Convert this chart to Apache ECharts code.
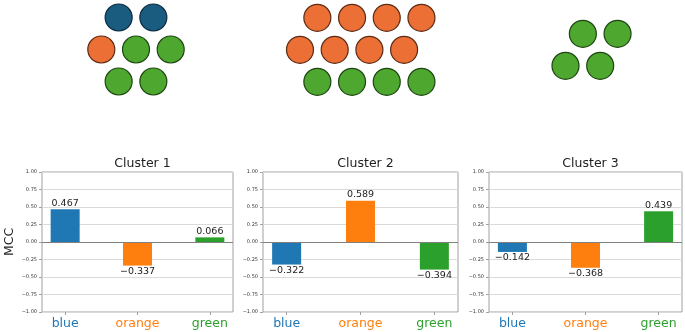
<!DOCTYPE html>
<html><head><meta charset="utf-8">
<script src="https://cdn.jsdelivr.net/npm/echarts@6/dist/echarts.min.js"></script>
<style>html,body{margin:0;padding:0;background:#fff}#c{width:685px;height:332px}</style>
</head><body><div id="c"></div>
<script>
// ---- data ----
const categories = ['blue', 'orange', 'green'];
const clusterTitles = ['Cluster 1', 'Cluster 2', 'Cluster 3'];
const mccCluster1 = [0.467, -0.337, 0.066];
const mccCluster2 = [-0.322, 0.589, -0.394];
const mccCluster3 = [-0.142, -0.368, 0.439];
const yTickValues = [-1.00, -0.75, -0.50, -0.25, 0.00, 0.25, 0.50, 0.75, 1.00];
const yAxisTitle = 'MCC';
// cluster members: [column, row, colour] on a hexagonal lattice
const cluster1Points = [[0.5,0,'blue'],[1.5,0,'blue'],[0,1,'orange'],[1,1,'green'],[2,1,'green'],[0.5,2,'green'],[1.5,2,'green']];
const cluster2Points = [[0.5,0,'orange'],[1.5,0,'orange'],[2.5,0,'orange'],[3.5,0,'orange'],
                        [0,1,'orange'],[1,1,'orange'],[2,1,'orange'],[3,1,'orange'],
                        [0.5,2,'green'],[1.5,2,'green'],[2.5,2,'green'],[3.5,2,'green']];
const cluster3Points = [[0.5,0,'green'],[1.5,0,'green'],[0,1,'green'],[1,1,'green']];

// ---- styles / layout ----
const barColors = {blue:'#1f77b4', orange:'#ff7f0e', green:'#2ca02c'};
const dotFill = {blue:'#1a5b80', orange:'#ec6f35', green:'#4ea72e'};
const dotEdge = {blue:'#0c2c40', orange:'#5e2c14', green:'#1e4612'};
const FONT = 'DejaVu Sans';
const panels = [[42,233],[263,458],[489,682]];
const PLOT_TOP = 172, PLOT_H = 140;
const dotOrigins = [[101.3,17.5],[300,17.8],[565.5,33.8]];
const DOT_SP = 34.7, ROW_SP = 32;

const allMcc = [mccCluster1, mccCluster2, mccCluster3];
const allPoints = [cluster1Points, cluster2Points, cluster3Points];
const fmtMinus = s => s.replace('-', '\u2212');

const grid = [], xAxis = [], yAxis = [], series = [], title = [];
const rich = {};
categories.forEach(c => rich[c] = {color: barColors[c], fontSize: 12.5, fontFamily: FONT});

panels.forEach((p, i) => {
  grid.push({left: p[0], width: p[1]-p[0], top: PLOT_TOP, height: PLOT_H, show: true,
             borderColor: '#a0a0a0', borderWidth: 1, backgroundColor: 'transparent'});
  title.push({text: clusterTitles[i], left: (p[0]+p[1])/2, top: 152, textAlign: 'center',
              textStyle: {fontFamily: FONT, fontSize: 12.5, fontWeight: 'normal', color: '#222'}});
  xAxis.push({type: 'value', gridIndex: i, min: -0.32, max: 2.32,
    axisLine: {show: false, onZero: false}, splitLine: {show: false},
    axisTick: {show: true, customValues: [0,1,2], length: 3, lineStyle: {color: '#a0a0a0'}},
    axisLabel: {show: true, customValues: [0,1,2], margin: 5,
      formatter: v => { const c = categories[Math.round(v)]; return '{' + c + '|' + c + '}'; }, rich}});
  yAxis.push({type: 'value', gridIndex: i, min: -1, max: 1, interval: 0.25,
    name: i === 0 ? yAxisTitle : '', nameLocation: 'middle', nameGap: 26, nameRotate: 90,
    nameTextStyle: {fontFamily: FONT, fontSize: 12.5, color: '#222'},
    axisLine: {show: false, onZero: false},
    axisTick: {show: true, length: 3, lineStyle: {color: '#a0a0a0'}},
    axisLabel: {fontFamily: FONT, fontSize: 5, color: '#333', margin: 5,
      formatter: v => fmtMinus(v.toFixed(2))},
    splitLine: {show: true, lineStyle: {color: '#dadada', width: 1}}});
  series.push({type: 'bar', xAxisIndex: i, yAxisIndex: i, barWidth: 29,
    data: allMcc[i].map((v, j) => ({value: [j, v], itemStyle: {color: barColors[categories[j]]},
      label: {position: v >= 0 ? 'top' : 'bottom'}})),
    label: {show: true, distance: 1, fontFamily: FONT, fontSize: 9.5, color: '#222',
      formatter: p => fmtMinus(p.value[1].toFixed(3))},
    markLine: {silent: true, symbol: 'none', label: {show: false},
      lineStyle: {color: '#808080', width: 1, type: 'solid'}, data: [{yAxis: 0}]},
    animation: false});
});

dotOrigins.forEach((o, i) => {
  const gi = grid.length;
  const maxCol = Math.max(...allPoints[i].map(d => d[0])) + 0.5;
  const maxRow = Math.max(...allPoints[i].map(d => d[1])) + 0.5;
  grid.push({left: o[0] - DOT_SP*0.5, top: o[1] - ROW_SP*0.5,
             width: DOT_SP*(maxCol + 0.5), height: ROW_SP*(maxRow + 0.5), show: false});
  xAxis.push({type: 'value', gridIndex: gi, min: -0.5, max: maxCol, show: false});
  yAxis.push({type: 'value', gridIndex: gi, min: -0.5, max: maxRow, inverse: true, show: false});
  series.push({type: 'scatter', xAxisIndex: gi, yAxisIndex: gi, symbolSize: 27, silent: true,
    data: allPoints[i].map(d => ({value: [d[0], d[1]],
      itemStyle: {color: dotFill[d[2]], borderColor: dotEdge[d[2]], borderWidth: 1.2, opacity: 1}})),
    animation: false});
});

const chart = echarts.init(document.getElementById('c'), null, {renderer: 'canvas'});
chart.setOption({animation: false, backgroundColor: '#fff', title, grid, xAxis, yAxis, series});
</script></body></html>
